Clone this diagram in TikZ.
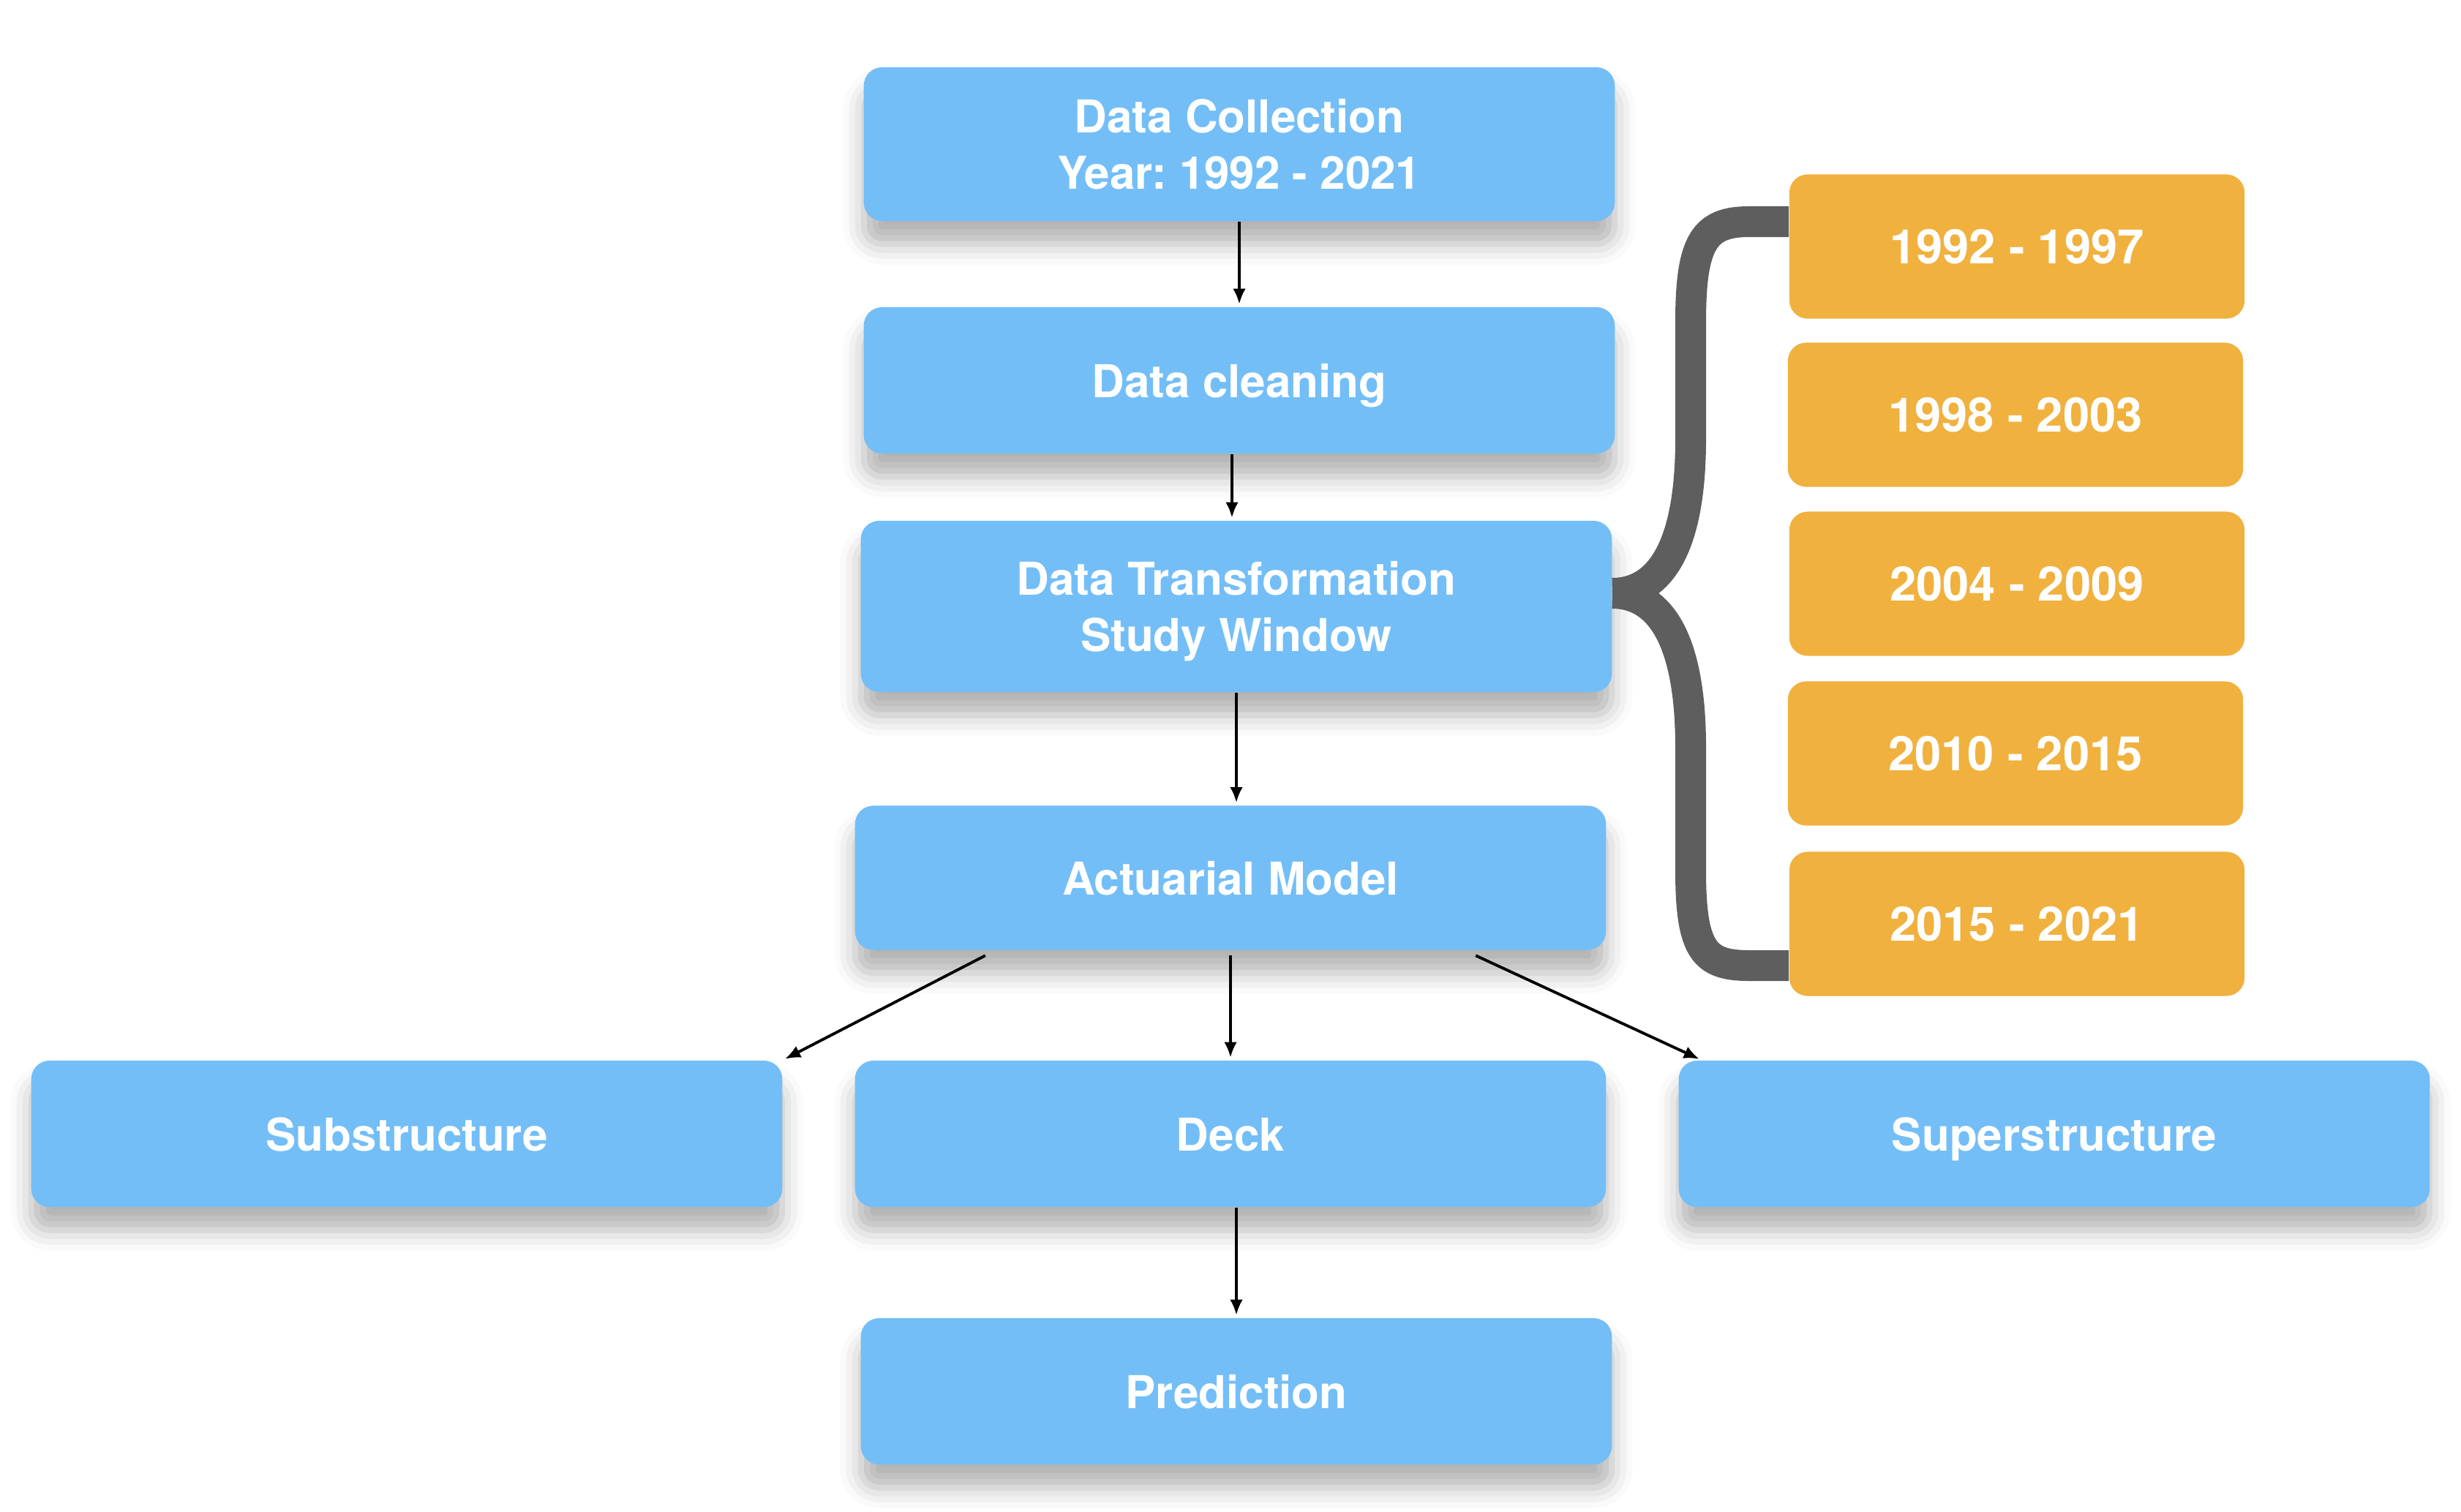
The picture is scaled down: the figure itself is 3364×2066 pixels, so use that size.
\documentclass[tikz,border=0pt]{standalone}
\usepackage{fontspec}
\setmainfont{TeX Gyre Heros}
\usepackage{tikz}
\usetikzlibrary{positioning,arrows.meta,shadows.blur}
\tikzset{>={Latex[length=6pt,width=5pt]}}
\definecolor{boxblue}{HTML}{73BEF7}
\definecolor{boxorange}{HTML}{F0B13F}
\definecolor{bracegray}{HTML}{5E5E5E}

\begin{document}
\begin{tikzpicture}[x=0.01cm,y=-0.01cm,
    blk/.style={fill=boxblue,rounded corners=0.25cm,minimum width=10.26cm,minimum height=2cm,
      text=white,align=center,font=\fontsize{17.6}{22}\selectfont\bfseries\frenchspacing,
      blur shadow={shadow xshift=0pt,shadow yshift=-9pt,shadow blur radius=8pt,shadow opacity=30}},
    oneline/.style={text height=13.5pt,text depth=0pt},
    yr/.style={fill=boxorange,rounded corners=0.25cm,minimum width=6.22cm,minimum height=1.97cm,
      text=white,font=\fontsize{18.5}{22}\selectfont\bfseries},
    arr/.style={->,line width=1.1pt,shorten >=1pt},
    brace/.style={draw=bracegray,line width=0.42cm}]
              \useasboundingbox (0,0) rectangle (3364,2066);

              \node[blk,minimum height=2.1cm] (collect) at (1694,197) {Data Collection\\Year: 1992 - 2021};
              \node[blk,oneline] (clean) at (1694,520) {Data cleaning};
              \node[blk,minimum height=2.34cm,text depth=0pt] (transform) at (1690,829) {Data Transformation\\Study Window};
              \node[blk,oneline,minimum height=1.97cm] (model) at (1682,1200) {Actuarial Model};
              \node[blk,oneline] (sub) at (556,1550) {Substructure};
              \node[blk,oneline] (deck) at (1682,1550) {Deck};
              \node[blk,oneline] (super) at (2808,1550) {Superstructure};
              \node[blk,oneline] (predict) at (1690,1902) {Prediction};

              \node[yr] (y1) at (2757,337) {1992 - 1997};
              \node[yr] (y2) at (2755,567) {1998 - 2003};
              \node[yr] (y3) at (2757,798) {2004 - 2009};
              \node[yr] (y4) at (2755,1030) {2010 - 2015};
              \node[yr] (y5) at (2757,1263) {2015 - 2021};

              \draw[arr] (collect.south) -- (collect.south |- clean.north);
              \draw[arr] ([xshift=-0.1cm]clean.south) -- ([xshift=-0.1cm]clean.south |- transform.north);
              \draw[arr] (transform.south) -- (transform.south |- model.north);
              \draw[arr] ([xshift=-3.35cm,yshift=-2pt]model.south) -- (sub.north east);
              \draw[arr] ([yshift=-2pt]model.south) -- (deck.north);
              \draw[arr] ([xshift=3.35cm,yshift=-2pt]model.south) -- ([xshift=0.32cm]super.north west);
              \draw[arr] (predict.north |- deck.south) -- (predict.north);

              % brace from the study window to the year blocks
              \coordinate (tip) at ([yshift=0.18cm]transform.east);
              \draw[brace] (tip) .. controls (2262,811) and (2311,760) .. (2311,600) -- (2311,440)
                .. controls (2311,330) and (2330,303) .. (2391,303) -- ([yshift=0.34cm]y1.west);
              \draw[brace] (tip) .. controls (2262,811) and (2311,862) .. (2311,1022) -- (2311,1190)
                .. controls (2311,1300) and (2330,1320) .. (2391,1320) -- ([yshift=-0.57cm]y5.west);
\end{tikzpicture}
\end{document}
